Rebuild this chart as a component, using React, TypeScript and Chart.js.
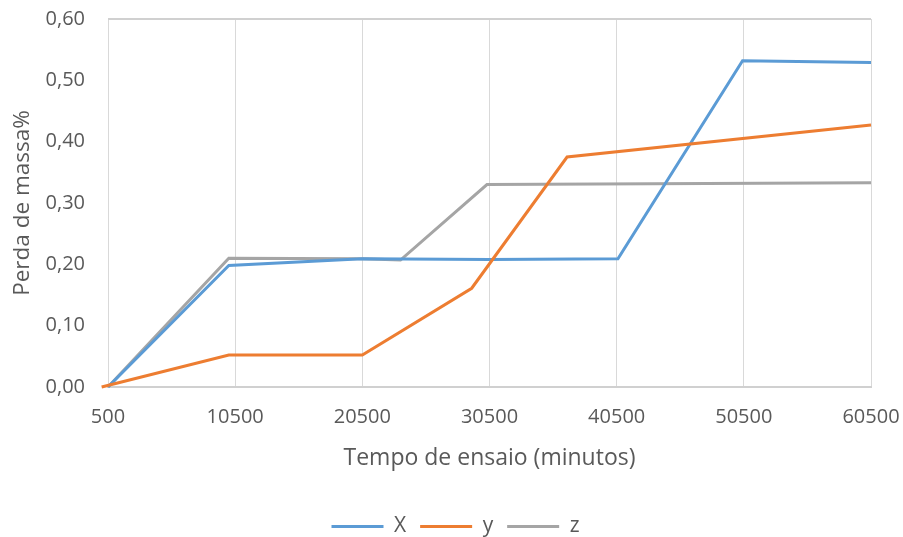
import React, { useEffect, useRef } from 'react';
import { Chart, registerables } from 'chart.js';

Chart.register(...registerables);

const xTickValues = [500, 10500, 20500, 30500, 40500, 50500, 60500];
const yMin = 0;
const yMax = 0.6;
const yStep = 0.1;

const seriesNames = ['X', 'y', 'z'];
const seriesColors = ['#5B9BD5', '#ED7D31', '#A5A5A5'];

const xTimes = [500, 10000, 20500, 30500, 40600, 50400, 60500];
const xValues = [0, 0.198, 0.209, 0.208, 0.209, 0.532, 0.529];

const yTimes = [0, 10000, 20500, 29100, 36600, 60500];
const yValues = [0, 0.052, 0.052, 0.161, 0.375, 0.427];

const zTimes = [500, 10000, 20500, 23500, 30300, 60500];
const zValues = [0, 0.21, 0.209, 0.207, 0.33, 0.333];

const FONT = '"Open Sans", "Noto Sans", sans-serif';
const TEXT = '#595959';

function pts(xs: number[], ys: number[]) {
  return xs.map((x, i) => ({ x, y: ys[i] }));
}

const legendShift = {
  id: 'legendShift',
  afterLayout(chart: any) {
    const lg = chart.legend;
    if (!lg) return;
    lg.left += 20;
    lg.right += 20;
  },
};

export default function App() {
  const ref = useRef<HTMLCanvasElement | null>(null);

  useEffect(() => {
    document.body.style.margin = '0';
    document.body.style.overflow = 'hidden';
    const canvas = ref.current;
    if (!canvas) return;
    const series = [pts(xTimes, xValues), pts(yTimes, yValues), pts(zTimes, zValues)];
    const orders = [1, 0, 2];
    const chart = new Chart(canvas, {
      type: 'line',
      plugins: [legendShift],
      data: {
        datasets: series.map((d, i) => ({
          label: seriesNames[i],
          data: d,
          borderColor: seriesColors[i],
          backgroundColor: seriesColors[i],
          borderWidth: 3,
          pointRadius: 0,
          pointHoverRadius: 0,
          tension: 0,
          fill: false,
          clip: false as any,
          order: orders[i],
          pointStyle: 'line',
        })),
      },
      options: {
        animation: false,
        responsive: true,
        maintainAspectRatio: false,
        layout: { padding: { top: 19, right: 32, left: 0, bottom: 0 } },
        plugins: {
          tooltip: { enabled: false },
          legend: {
            position: 'bottom',
            labels: {
              usePointStyle: true,
              pointStyle: 'line',
              pointStyleWidth: 52,
              color: TEXT,
              font: { family: FONT, size: 21 },
              padding: 14,
              sort: (a: any, b: any) => a.datasetIndex - b.datasetIndex,
            },
          },
        },
        scales: {
          x: {
            type: 'linear',
            min: 500,
            max: 60500,
            afterBuildTicks: (scale: any) => {
              scale.ticks = xTickValues.map((v) => ({ value: v }));
            },
            afterFit: (scale: any) => {
              scale.height = 115;
              scale.paddingLeft = 0;
              scale.paddingRight = 0;
            },
            ticks: {
              color: TEXT,
              font: { family: FONT, size: 20 },
              padding: 18,
              maxRotation: 0,
              autoSkip: false,
              callback: (v: any) => String(v),
            },
            grid: { color: '#D9D9D9', lineWidth: 1, drawTicks: false },
            border: { display: true, color: '#D0D0D0', width: 2 },
            title: {
              display: true,
              text: 'Tempo de ensaio (minutos)',
              color: TEXT,
              font: { family: FONT, size: 23 },
              padding: { top: 0, bottom: 30 },
            },
          },
          y: {
            type: 'linear',
            min: yMin,
            max: yMax,
            ticks: {
              stepSize: yStep,
              color: TEXT,
              font: { family: FONT, size: 20 },
              padding: 23,
              callback: (v: any) => Number(v).toFixed(2).replace('.', ','),
            },
            afterFit: (scale: any) => {
              scale.width = 108;
              scale.paddingTop = 0;
              scale.paddingBottom = 0;
            },
            grid: {
              drawTicks: false,
              color: (ctx: any) => {
                const v = ctx.tick ? ctx.tick.value : 0;
                return Math.abs(v - yMax) < 1e-9 || Math.abs(v) < 1e-9 ? '#D0D0D0' : 'rgba(0,0,0,0)';
              },
              lineWidth: 2,
            },
            border: { display: false },
            title: {
              display: true,
              text: 'Perda de massa%',
              color: TEXT,
              font: { family: FONT, size: 22.5 },
              padding: { top: 9, bottom: 0 },
            },
          },
        },
      },
    });
    return () => chart.destroy();
  }, []);

  return (
    <div style={{ width: 903, height: 537, overflow: 'hidden', position: 'relative' }}>
      <div style={{ width: 903, height: 547, position: 'absolute', left: 0, top: 0 }}>
        <canvas ref={ref} />
      </div>
    </div>
  );
}
